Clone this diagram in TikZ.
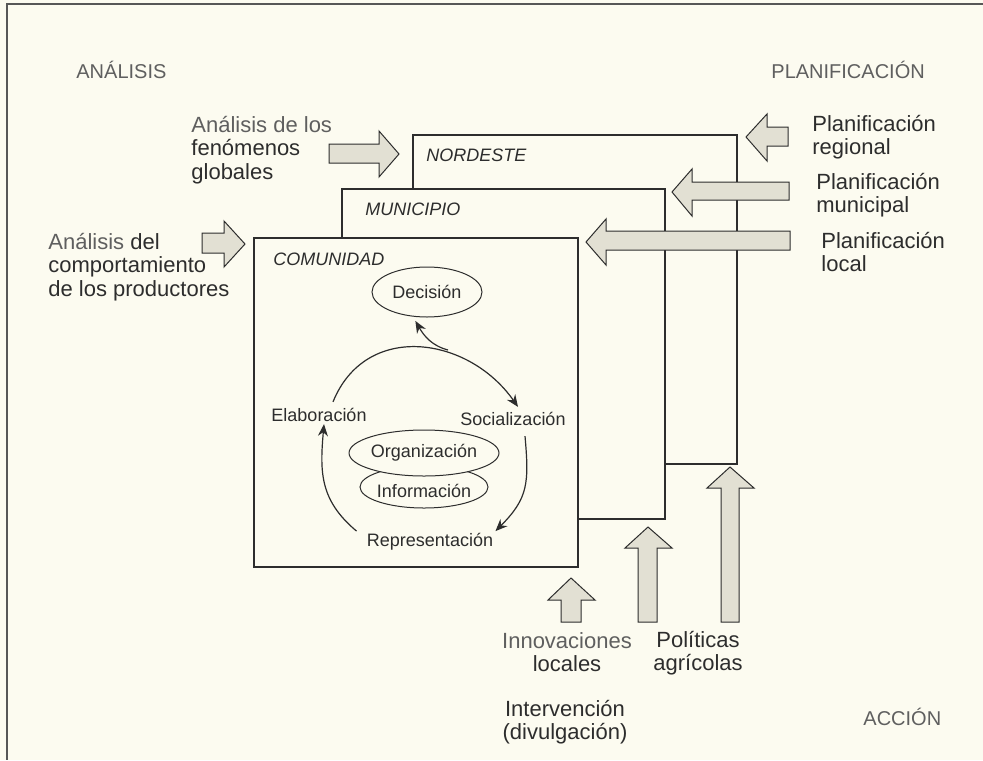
\documentclass[tikz,border=0pt]{standalone}
\usepackage{fontspec}
\setmainfont{Liberation Sans}
\usetikzlibrary{arrows.meta,shapes.geometric}
\definecolor{paper}{RGB}{252,251,240}
\definecolor{arrowgray}{RGB}{226,224,211}
\definecolor{ink}{RGB}{45,45,45}
\definecolor{thinink}{RGB}{95,95,95}
\begin{document}
\begin{tikzpicture}[x=0.5pt,y=0.5pt,
    levelbox/.style={draw=ink,line width=0.75pt,fill=paper},
    bigarrow/.style={draw=ink,line width=0.5pt,fill=arrowgray},
    lbl/.style={inner sep=0pt,align=left,text=ink,font=\fontsize{11}{11.6}\selectfont},
    corner/.style={inner sep=0pt,anchor=west,text=thinink,font=\fontsize{10}{12}\selectfont},
    level/.style={inner sep=0pt,anchor=west,text=ink,font=\fontsize{9}{11}\selectfont\itshape},
    bubble/.style={ellipse,draw=ink,line width=0.5pt,fill=paper,inner sep=0pt,text=ink,font=\fontsize{9}{11}\selectfont},
    stage/.style={inner sep=1pt,text=ink,font=\fontsize{9}{11}\selectfont},
    loopline/.style={draw=ink,line width=0.6pt,-{Stealth[length=6pt,width=5pt]}}]
  \fill[paper] (0,0) rectangle (983,-760);
  \useasboundingbox (0,0) rectangle (983,-760);
  \draw[ink!80,line width=0.6pt] (983,-4) -- (7,-4) -- (7,-760);

  % the three levels
  \draw[levelbox] (413,-135) rectangle (737,-464);
  \draw[levelbox] (342,-189) rectangle (665,-519);
  \draw[levelbox] (254,-238) rectangle (578,-567);
  \node[level] (nordeste) at (426,-155) {NORDESTE};
  \node[level] (municipio) at (365,-209) {MUNICIPIO};
  \node[level] (comunidad) at (273,-259) {COMUNIDAD};

  % cycle inside the community
  \node[bubble,minimum width=55pt,minimum height=25pt] (dec) at (427,-292) {Decisión};
  \node[bubble,minimum width=64pt,minimum height=21pt] (info) at (424,-487) {};
  \node[bubble,minimum width=64pt,minimum height=23pt] (org) at (424,-453) {Organización};
  \node[font=\fontsize{9}{11}\selectfont,text=ink] at (info.center) [yshift=-2pt] {Información};
  \node[stage] (elab) at (319,-415) {Elaboración};
  \node[stage] (social) at (513,-419) {Socialización};
  \node[stage] (repr) at (430,-542) {Representación};
  \coordinate (dtop) at (448,-350);
  \draw[loopline] ([shift={(7pt,2pt)}]elab.north) to[out=68,in=125,looseness=1.2]
    ([shift={(2.5pt,1.5pt)}]social.north);
  \draw[loopline] ([shift={(6pt,-4pt)}]social.south) to[out=-85,in=45,looseness=1.2]
    (repr.north east);
  \draw[loopline] ([xshift=-4pt]repr.north west) to[out=140,in=-95,looseness=1.1]
    ([xshift=2.5pt]elab.south);
  \draw[loopline] (dtop) to[out=165,in=-60] ([yshift=-2pt]dec.-115);

  % analysis arrows
  \draw[bigarrow] (329,-144) -- (379,-144) -- (379,-131) -- (399,-154) -- (379,-177)
    -- (379,-163) -- (329,-163) -- cycle;
  \draw[bigarrow] (202,-233) -- (224,-233) -- (224,-221) -- (245,-244) -- (224,-267)
    -- (224,-253) -- (202,-253) -- cycle;
  % planning arrows
  \draw[bigarrow] (788,-127) -- (767,-127) -- (767,-114) -- (746,-137) -- (767,-161)
    -- (767,-146) -- (788,-146) -- cycle;
  \draw[bigarrow] (789,-182) -- (692,-182) -- (692,-169) -- (672,-192) -- (692,-216)
    -- (692,-200) -- (789,-200) -- cycle;
  \draw[bigarrow] (790,-231) -- (606,-231) -- (606,-219) -- (586,-242) -- (606,-265)
    -- (606,-250) -- (790,-250) -- cycle;
  % action arrows
  \draw[bigarrow] (561,-622) -- (561,-600) -- (548,-600) -- (571,-578) -- (595,-600)
    -- (581,-600) -- (581,-622) -- cycle;
  \draw[bigarrow] (638,-622) -- (638,-548) -- (625,-548) -- (648,-527) -- (672,-548)
    -- (657,-548) -- (657,-622) -- cycle;
  \draw[bigarrow] (721,-622) -- (721,-488) -- (707,-488) -- (730,-467) -- (754,-488)
    -- (739,-488) -- (739,-622) -- cycle;

  % texts
  \node[corner] (analisis) at (76,-70) {ANÁLISIS};
  \node[corner] (planif) at (771,-70) {PLANIFICACIÓN};
  \node[corner] (accion) at (863,-717) {ACCIÓN};
  \node[lbl,anchor=west] (globales) at (191,-150)
    {{\color{thinink}Análisis de los}\\fenómenos\\globales};
  \node[lbl,anchor=west] (productores) at (48,-267)
    {{\color{thinink}Análisis} del\\comportamiento\\de los productores};
  \node[lbl,anchor=west] (regional) at (812,-137) {Planificación\\regional};
  \node[lbl,anchor=west] (municipal) at (816,-195) {Planificación\\municipal};
  \node[lbl,anchor=west] (local) at (821,-252) {Planificación\\local};
  \node[lbl,align=center] (innov) at (567,-652) {{\color{thinink}Innovaciones}\\locales};
  \node[lbl,align=center] (politicas) at (698,-653) {Políticas\\agrícolas};
  \node[lbl,align=center] (interv) at (565,-722) {Intervención\\(divulgación)};
\end{tikzpicture}
\end{document}
